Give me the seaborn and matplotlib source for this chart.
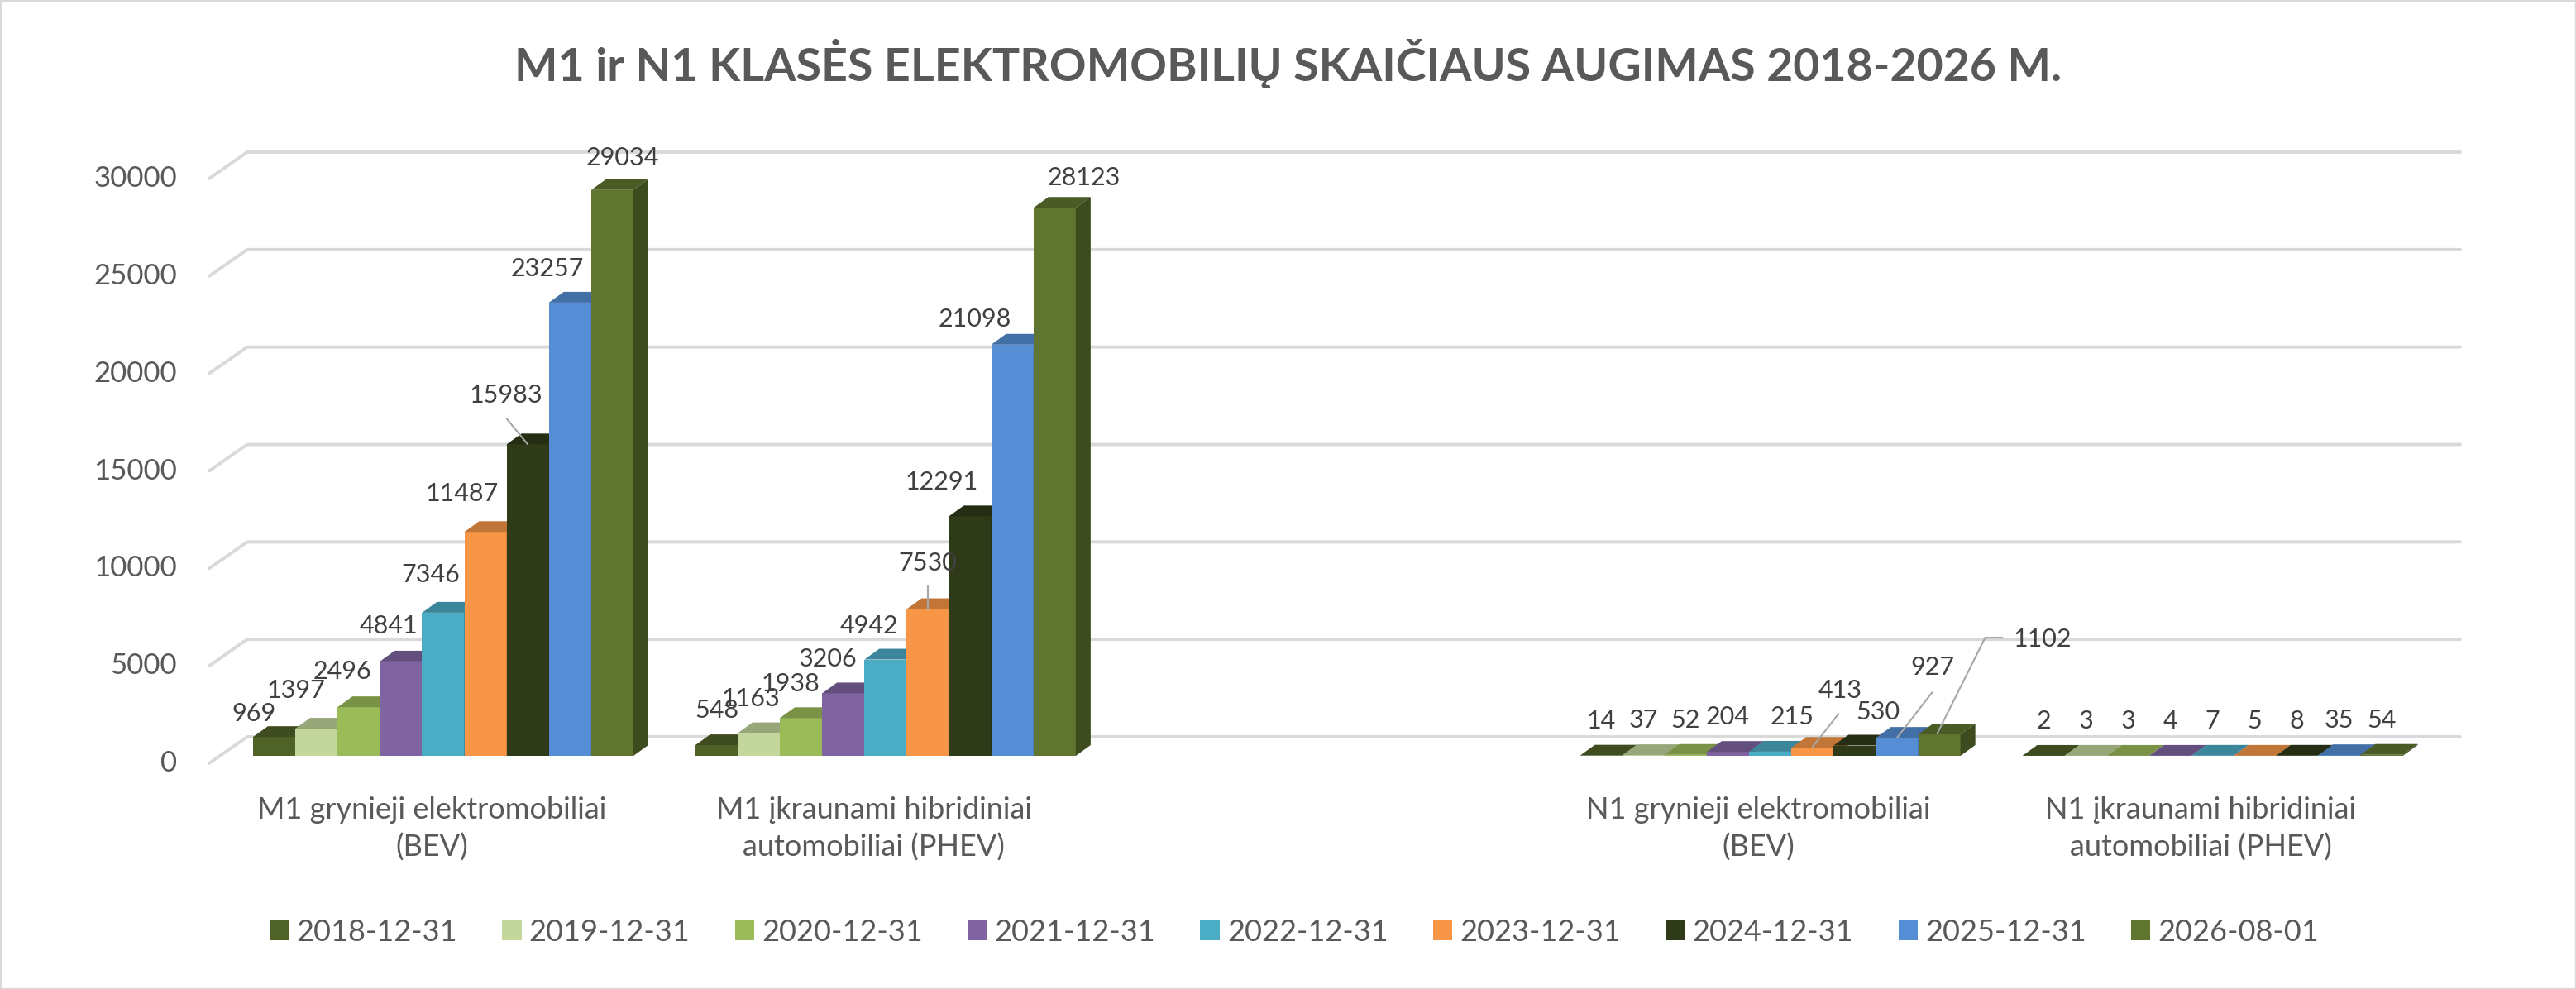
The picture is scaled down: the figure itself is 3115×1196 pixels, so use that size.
import matplotlib
matplotlib.use("Agg")
import matplotlib.pyplot as plt
import matplotlib.colors as mcolors
from matplotlib import transforms as mtransforms
from matplotlib.patches import Polygon, Rectangle, Patch
from matplotlib.lines import Line2D
import pandas as pd
import seaborn as sns

# ---- data -------------------------------------------------------------
categories = ["M1 grynieji elektromobiliai (BEV)",
              "M1 įkraunami hibridiniai automobiliai (PHEV)",
              "N1 grynieji elektromobiliai (BEV)",
              "N1 įkraunami hibridiniai automobiliai (PHEV)"]
cat_labels = ["M1 grynieji elektromobiliai\n(BEV)",
              "M1 įkraunami hibridiniai\nautomobiliai (PHEV)",
              "N1 grynieji elektromobiliai\n(BEV)",
              "N1 įkraunami hibridiniai\nautomobiliai (PHEV)"]
dates = ["2018-12-31", "2019-12-31", "2020-12-31", "2021-12-31", "2022-12-31",
         "2023-12-31", "2024-12-31", "2025-12-31", "2026-08-01"]
m1_bev = [969, 1397, 2496, 4841, 7346, 11487, 15983, 23257, 29034]
m1_phev = [548, 1163, 1938, 3206, 4942, 7530, 12291, 21098, 28123]
n1_bev = [14, 37, 52, 204, 215, 413, 530, 927, 1102]
n1_phev = [2, 3, 3, 4, 7, 5, 8, 35, 54]
yticks = [0, 5000, 10000, 15000, 20000, 25000, 30000]

colors = ["#4F6228", "#C3D69B", "#9BBB59", "#8064A2", "#4BACC6",
          "#F79646", "#2F3A18", "#558ED5", "#5F7530"]

rows = []
for cat, vals in zip(categories, [m1_bev, m1_phev, n1_bev, n1_phev]):
    for d, v in zip(dates, vals):
        rows.append({"kategorija": cat, "data": d, "kiekis": v})
df = pd.DataFrame(rows)

# empty slot between M1 and N1 groups, like in the original sheet
order = [categories[0], categories[1], " ", categories[2], categories[3]]

# ---- look ---------------------------------------------------------------
W, H, DPI = 3115, 1196, 100
sns.set_style("white")
plt.rcParams["font.family"] = ["Lato", "DejaVu Sans"]
GREY = "#595959"
GRID = "#D9D9D9"
DX, DY = 18, 13          # fake 3d depth, px

fig = plt.figure(figsize=(W / DPI, H / DPI), dpi=DPI)
ax = fig.add_axes([268.5 / W, 1 - 914 / H, (2943 - 268.5) / W, (914 - 207) / H])

sns.barplot(data=df, x="kategorija", y="kiekis", hue="data", order=order,
            hue_order=dates, palette=colors, width=0.86, gap=0, dodge=True,
            errorbar=None, linewidth=0, saturation=1, legend=False, ax=ax)

ax.set_autoscale_on(False)
ax.set_xlim(-0.5, 4.5)
ax.set_ylim(0, 30000)
ax.set_xlabel("")
ax.set_ylabel("")
ax.set_xticks([])
ax.set_yticks([])
ax.grid(False)
for s in ax.spines.values():
    s.set_visible(False)


def shift(dx, dy):
    return mtransforms.ScaledTranslation(dx / DPI, dy / DPI, fig.dpi_scale_trans)


ident = mtransforms.IdentityTransform()
xl = ax.transAxes.transform((0, 0))[0]
xr = ax.transAxes.transform((1, 0))[0]

# back wall grid lines with the oblique floor part on the left
for v in yticks:
    y = ax.transData.transform((0, v))[1]
    ax.add_line(Line2D([xl - 15.5, xl + 30.5, xr + 32], [y - 9, y + 23, y + 23],
                       transform=ident, color=GRID, lw=2.8, zorder=1, clip_on=False))
    ax.text(0, v, str(v), transform=ax.get_yaxis_transform() + shift(-54.5, -9),
            ha="right", va="center", fontsize=25, color=GREY)


def shade(c, f):
    r, g, b = mcolors.to_rgb(c)
    return (r * f, g * f, b * f)


# label offsets (px, right / up from top centre of the bar front)
label_shift = {
    (0, 0): (-24, 28), (0, 1): (-25, 46), (0, 2): (-20, 43), (0, 3): (-15, 43),
    (0, 4): (-15, 46), (0, 5): (-28, 46), (0, 6): (-26, 59), (0, 7): (-27, 41),
    (0, 8): (12, 39),
    (1, 0): (0, 42), (1, 1): (-10, 42), (1, 2): (-13, 41), (1, 3): (-19, 41),
    (1, 4): (-20, 41), (1, 5): (0, 56), (1, 6): (-34, 41), (1, 7): (-45, 31),
    (1, 8): (36, 36),
    (3, 4): (26, 42), (3, 5): (33, 69), (3, 6): (28, 41), (3, 7): (43, 85),
    (3, 8): (125, 115),
}
leaders = {
    (0, 6): [(-25.5, 31), (0, 0)],
    (1, 5): [(0, 28), (0, 0)],
    (3, 5): [(31.5, 41), (0, 1)],
    (3, 7): [(42.5, 55), (0, 0)],
    (3, 8): [(76.5, 117), (55.5, 117), (-2.5, 1)],
}

for h, cont in enumerate(ax.containers):
    col = colors[h]
    for bar, val in zip(cont, cont.datavalues):
        bar.set_zorder(2 + 0.1 * h)
        x0, w, hgt = bar.get_x(), bar.get_width(), bar.get_height()
        (px0, pyb), (px1, pyt) = ax.transData.transform([(x0, 0), (x0 + w, hgt)])
        top = [(px0, pyt), (px1, pyt), (px1 + DX, pyt + DY), (px0 + DX, pyt + DY)]
        side = [(px1, pyb), (px1, pyt), (px1 + DX, pyt + DY), (px1 + DX, pyb + DY)]
        ax.add_patch(Polygon(top, closed=True, transform=ident, facecolor=shade(col, 0.78),
                             lw=0, zorder=2 + 0.1 * h + 0.05, clip_on=False))
        ax.add_patch(Polygon(side, closed=True, transform=ident, facecolor=shade(col, 0.64),
                             lw=0, zorder=2 + 0.1 * h + 0.05, clip_on=False))

        slot = int(round(x0 + w / 2))
        dx, dy = label_shift.get((slot, h), (0, 42))
        cx = (px0 + px1) / 2
        ax.text(cx + dx, pyt + dy, f"{int(val)}", transform=ident, ha="center",
                va="center", fontsize=22, color="#404040", zorder=10)
        if (slot, h) in leaders:
            pts = leaders[(slot, h)]
            ax.add_line(Line2D([cx + p[0] for p in pts], [pyt + p[1] for p in pts],
                               transform=ident, color="#A6A6A6", lw=1.5, zorder=9,
                               clip_on=False))

# category labels under each group
for cat, lab in zip(categories, cat_labels):
    ax.text(order.index(cat), 0, lab, transform=ax.transData + shift(-14, -88),
            ha="center", va="center", fontsize=26, color=GREY, linespacing=1.42)

fig.text(0.5, 1 - 77 / H, "M1 ir N1 KLASĖS ELEKTROMOBILIŲ SKAIČIAUS AUGIMAS 2018-2026 M.",
         ha="center", va="center", fontsize=40, fontweight="bold", color=GREY)

handles = [Patch(facecolor=c, edgecolor="none") for c in colors]
fig.legend(handles, dates, ncol=9, loc="center", bbox_to_anchor=(1565 / W, 1 - 1127 / H),
           frameon=False, fontsize=26, handlelength=0.65, handleheight=0.65,
           handletextpad=0.25, columnspacing=1.5, labelcolor=GREY)

fig.patches.append(Rectangle((0, 0), 1, 1, transform=fig.transFigure, fill=False,
                             edgecolor=GRID, lw=2.5))

fig.savefig("out.png", dpi=DPI)
